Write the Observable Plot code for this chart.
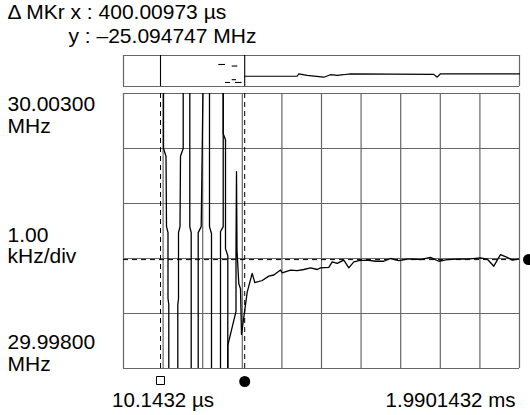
<!DOCTYPE html>
<html><head><meta charset="utf-8">
<script src="https://cdn.jsdelivr.net/npm/d3@7"></script>
<script src="https://cdn.jsdelivr.net/npm/@observablehq/plot@0.6"></script>
<style>
html,body{margin:0;padding:0;background:#fff;}
#chart{position:relative;width:530px;height:415px;overflow:hidden;background:#fff;}
#chart svg{position:absolute;left:0;top:0;}
</style></head><body><div id="chart"></div>
<script>
// ---- data (time in µs from display start, frequency offset in kHz from 30 MHz) ----
const xDivisions = [0, 198, 396, 594, 792, 990, 1188, 1386, 1584, 1782, 1980];
const yDivisions = [-2, -1, 0, 1, 2, 3];
const markerStart = 185;
const markerEnd = 606;
const markerLevel = -0.02;
const readoutLines = ["Δ MKr x : 400.00973 µs", "y : –25.094747 MHz"];
const yLabels = ["30.00300\nMHz", "1.00\nkHz/div", "29.99800\nMHz"];
const xLabels = ["10.1432 µs", "1.9901432 ms"];

// out-of-range sweeps (values beyond the screen are clipped)
const sweepTimes = [
  [200, 200, 212.5, 215, 222.5, 222.5, 226.5, 226.5],
  [298.5, 298.5, 285, 282.5, 275, 275, 271.5, 271.5],
  [331.5, 331.5, 338.5, 338.5],
  [397.5, 388.5, 373.5, 373.5],
  [430, 430, 440, 440],
  [498.5, 498.5, 485, 485],
  [498.5, 498.5, 510, 510, 521.5, 521.5]
];
const sweepFreqs = [
  [3.1, 2.0, 1.86, 0.58, 0.47, -0.73, -0.84, -2.1],
  [3.1, 2.0, 1.86, 0.58, 0.47, -0.73, -0.84, -2.1],
  [3.1, 0.58, 0.47, -2.1],
  [3.1, 0.58, 0.47, -2.1],
  [3.1, 0.58, 0.45, -2.1],
  [3.1, 0.58, 0.49, -2.1],
  [3.1, 2.27, 2.16, 0.18, 0.05, -2.1]
];
// settling trace
const settleTimes = [521.5, 521.5, 562.5, 562.5, 565, 567.5, 576.5, 585, 590, 618.5, 643.5, 656.5, 693.5, 726.5, 751.5, 785, 793.5, 835, 868.5, 901.5, 935, 968.5, 985, 1026.5, 1043.5, 1068.5, 1101.5, 1126.5, 1151.5, 1176.5, 1218.5, 1260, 1301.5, 1335, 1376.5, 1418.5, 1451.5, 1485, 1535, 1576.5, 1618.5, 1668.5, 1718.5, 1785, 1818.5, 1851.5, 1885, 1918.5, 1943.5, 1976.5];
const settleFreqs = [-2.1, -1.58, -0.96, 0.18, 1.58, 0.15, -0.46, -0.55, -1.38, -0.61, -0.27, -0.44, -0.40, -0.32, -0.30, -0.21, -0.26, -0.21, -0.22, -0.20, -0.17, -0.20, -0.17, -0.16, -0.06, -0.09, -0.03, -0.17, -0.06, -0.04, -0.03, -0.05, -0.05, 0.0, -0.04, -0.01, -0.01, -0.02, 0.02, -0.05, -0.02, -0.01, -0.01, 0.01, -0.01, -0.14, 0.07, 0.02, -0.03, -0.01];

// overview strip (level 0 = bottom, 1 = top of strip)
const stripTimes = [606.5, 868.5, 876.5, 918.5, 1001.5, 1035, 1068.5, 1100, 1135, 1551.5, 1568.5, 1585, 1980];
const stripLevels = [0.33, 0.33, 0.41, 0.36, 0.30, 0.38, 0.36, 0.38, 0.41, 0.39, 0.30, 0.41, 0.41];
const stripTickStart = [476.5, 543.5, 543.5, 510, 560];
const stripTickEnd = [510, 571.5, 565, 535, 593];
const stripTickLevel = [0.71, 0.66, 0.22, 0.13, 0.13];

// ---- build tables ----
const traceRows = [];
sweepTimes.forEach((ts, k) => ts.forEach((t, i) => traceRows.push({t, f: sweepFreqs[k][i], seg: "s" + k})));
settleTimes.forEach((t, i) => traceRows.push({t, f: settleFreqs[i], seg: "settle"}));
const stripRows = stripTimes.map((t, i) => ({t, v: stripLevels[i]}));
const stripTicks = stripTickStart.map((s, i) => ({x1: s, x2: stripTickEnd[i], v: stripTickLevel[i]}));

const FONT = "Liberation Sans, Arial, Helvetica, sans-serif";
const GRID = "#666";
const txt = {fontFamily: FONT, fill: "black", lineAnchor: "bottom"};
const big = {...txt, fontSize: 21, lineHeight: 1.03};
const mid = {...txt, fontSize: 20.5};

const main = Plot.plot({
  width: 530, height: 415,
  marginLeft: 123, marginRight: 11, marginTop: 93, marginBottom: 47,
  x: {domain: [0, 1980], axis: null},
  y: {domain: [-2, 3], axis: null},
  style: {background: "white"},
  marks: [
    Plot.ruleX(xDivisions, {stroke: GRID, strokeWidth: 1.2}),
    Plot.ruleY(yDivisions, {stroke: GRID, strokeWidth: 1.2}),
    Plot.ruleX([markerStart, markerEnd], {stroke: "black", strokeDasharray: "5,4"}),
    Plot.ruleY([markerLevel], {stroke: "black", strokeDasharray: "5,4"}),
    Plot.line(traceRows, {x: "t", y: "f", z: "seg", stroke: "black", strokeWidth: 1.3, clip: true}),
    Plot.dot([markerStart], {x: d => d, frameAnchor: "bottom", dy: 12, symbol: "square", r: 4.5, stroke: "black", fill: "white", strokeWidth: 1}),
    Plot.dot([markerEnd], {x: d => d, frameAnchor: "bottom", dy: 13, r: 5.5, fill: "black", stroke: "none"}),
    Plot.dot([markerLevel], {y: d => d, frameAnchor: "right", dx: 9, r: 5.5, fill: "black", stroke: "none"}),
    Plot.text([yLabels[0]], {text: d => d, frameAnchor: "top-left", dx: -116, dy: 39.3, textAnchor: "start", ...big}),
    Plot.text([yLabels[1]], {text: d => d, frameAnchor: "left", dx: -116, dy: 32.2, textAnchor: "start", ...big}),
    Plot.text([yLabels[2]], {text: d => d, frameAnchor: "bottom-left", dx: -116, dy: 2, textAnchor: "start", ...big}),
    Plot.text([xLabels[0]], {text: d => d, frameAnchor: "bottom-left", dx: 39.5, dy: 38.7, textAnchor: "middle", ...mid}),
    Plot.text([xLabels[1]], {text: d => d, frameAnchor: "bottom-right", dx: -4, dy: 38.7, textAnchor: "end", ...mid})
  ]
});

const strip = Plot.plot({
  width: 530, height: 90,
  marginLeft: 123, marginRight: 11, marginTop: 55, marginBottom: 4,
  x: {domain: [0, 1980], axis: null},
  y: {domain: [0, 1], axis: null},
  style: {background: "transparent"},
  marks: [
    Plot.ruleX([0, 1980], {stroke: GRID, strokeWidth: 1.2}),
    Plot.ruleY([0, 1], {stroke: GRID, strokeWidth: 1.2}),
    Plot.ruleX([markerStart, markerEnd], {stroke: "black", strokeWidth: 1.1}),
    Plot.ruleY(stripTicks, {y: "v", x1: "x1", x2: "x2", stroke: "black", strokeWidth: 1.1}),
    Plot.line(stripRows, {x: "t", y: "v", stroke: "black", strokeWidth: 1.2}),
    Plot.text([readoutLines[0]], {text: d => d, frameAnchor: "top-left", dx: -116, dy: -36.7, textAnchor: "start", ...big}),
    Plot.text([readoutLines[1]], {text: d => d, frameAnchor: "top-left", dx: -55, dy: -13, textAnchor: "start", ...big})
  ]
});

const chart = document.getElementById("chart");
chart.appendChild(main);
chart.appendChild(strip);
</script>
</body></html>
